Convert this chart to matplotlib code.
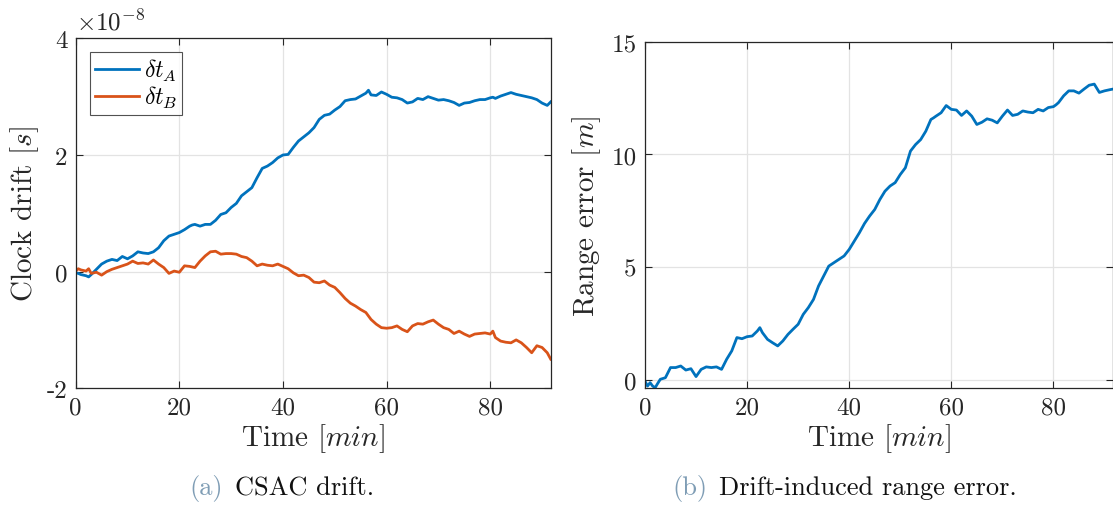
import matplotlib
matplotlib.use('Agg')
import matplotlib.pyplot as plt

plt.rcParams['font.family'] = 'serif'
plt.rcParams['font.serif'] = ['cmr10', 'DejaVu Serif']
plt.rcParams['mathtext.fontset'] = 'cm'
plt.rcParams['axes.unicode_minus'] = False

# time [min]
t = [0, 0.5, 1, 1.5, 2, 2.5, 3, 4, 5, 6, 7, 8, 9, 10, 11, 12, 13, 14, 15, 16, 17, 18, 19, 20,
     21, 22, 22.5, 23, 24, 25, 26, 27, 28, 29, 30, 31, 32, 33, 34, 35, 36, 37, 38, 39, 40,
     41, 42, 43, 44, 45, 46, 47, 48, 49, 50, 51, 52, 53, 54, 55, 56, 56.5, 57, 58, 59, 60,
     61, 62, 63, 64, 65, 66, 67, 68, 69, 70, 71, 72, 73, 74, 75, 76, 77, 78, 79, 80,
     80.5, 81, 82, 83, 84, 85, 86, 87, 88, 89, 90, 91, 91.67]

# clock drift, units of 1e-8 s
dt_a = [-0.02, -0.03, -0.05, -0.06, -0.07, -0.09, -0.05, 0.04, 0.13, 0.18, 0.21, 0.19, 0.26, 0.22,
        0.27, 0.34, 0.32, 0.31, 0.34, 0.41, 0.53, 0.61, 0.64, 0.67,
        0.72, 0.78, 0.80, 0.81, 0.78, 0.81, 0.81, 0.88, 0.98, 1.01, 1.10, 1.17, 1.30, 1.37, 1.44,
        1.61, 1.77, 1.81, 1.87, 1.95, 2.00,
        2.01, 2.13, 2.24, 2.31, 2.38, 2.47, 2.61, 2.68, 2.70, 2.77, 2.83, 2.93, 2.95, 2.96, 3.01,
        3.06, 3.11, 3.03, 3.02, 3.08, 3.04,
        2.99, 2.98, 2.95, 2.89, 2.91, 2.97, 2.95, 3.00, 2.97, 2.94, 2.95, 2.93, 2.90, 2.85, 2.89,
        2.90, 2.93, 2.95, 2.95, 2.98,
        2.99, 2.97, 3.01, 3.04, 3.07, 3.04, 3.02, 3.00, 2.98, 2.95, 2.89, 2.85, 2.91]

dt_b = [0.01, 0.05, 0.03, 0.02, 0.01, 0.05, -0.03, -0.01, -0.06, 0.00, 0.04, 0.07, 0.10, 0.13,
        0.18, 0.14, 0.15, 0.13, 0.20, 0.13, 0.07, -0.03, 0.01, -0.01,
        0.10, 0.09, 0.08, 0.07, 0.18, 0.27, 0.34, 0.35, 0.30, 0.31, 0.31, 0.30, 0.26, 0.24, 0.18,
        0.10, 0.13, 0.11, 0.10, 0.13, 0.09,
        0.05, -0.02, -0.07, -0.06, -0.10, -0.18, -0.19, -0.16, -0.23, -0.27, -0.36, -0.46, -0.54,
        -0.59, -0.65, -0.70, -0.76, -0.82, -0.90, -0.96, -0.97,
        -0.96, -0.93, -0.99, -1.03, -0.93, -0.89, -0.90, -0.86, -0.83, -0.90, -0.96, -0.99, -1.06,
        -1.02, -1.07, -1.11, -1.07, -1.06, -1.05, -1.07,
        -1.02, -1.13, -1.19, -1.21, -1.22, -1.17, -1.22, -1.30, -1.39, -1.27, -1.30, -1.39, -1.50]

# range error [m]
range_err = [-0.05, -0.27, -0.12, -0.27, -0.34, -0.15, 0.03, 0.10, 0.55, 0.55, 0.62, 0.44, 0.50,
             0.15, 0.47, 0.58, 0.55, 0.58, 0.47, 0.92, 1.29, 1.88, 1.83, 1.92,
             1.95, 2.17, 2.32, 2.10, 1.80, 1.65, 1.51, 1.73, 2.02, 2.25, 2.47, 2.91, 3.21, 3.57,
             4.17, 4.61, 5.05, 5.20, 5.35, 5.50, 5.79,
             6.16, 6.53, 6.94, 7.27, 7.56, 8.00, 8.37, 8.60, 8.75, 9.11, 9.41, 10.15, 10.44, 10.66,
             11.03, 11.55, 11.62, 11.70, 11.85, 12.17, 12.00,
             11.97, 11.73, 11.93, 11.70, 11.33, 11.43, 11.58, 11.52, 11.40, 11.70, 11.97, 11.73,
             11.78, 11.93, 11.88, 11.85, 12.00, 11.93, 12.08, 12.12,
             12.20, 12.30, 12.60, 12.82, 12.82, 12.72, 12.90, 13.07, 13.12, 12.75, 12.82, 12.87, 12.90]

blue = '#0072BD'
orange = '#D95319'
cap_col = '#7f9db5'
tick_fs = 18
lab_fs = 21

fig = plt.figure(figsize=(11.13, 5.06), dpi=100)
ax1 = fig.add_axes([0.068, 0.2306, 0.4268, 0.6917])
ax2 = fig.add_axes([0.5795, 0.2306, 0.4205, 0.685])


def style(ax):
    ax.grid(True, color='#e3e3e3', linewidth=0.9)
    ax.set_axisbelow(True)
    ax.tick_params(direction='in', top=True, right=True, labelsize=tick_fs,
                   length=5, width=0.8, colors='#262626', pad=6)
    for s in ax.spines.values():
        s.set_color('#262626')
        s.set_linewidth(0.9)
    ax.set_xlim(0, 91.67)
    ax.set_xticks([0, 20, 40, 60, 80])
    ax.set_xlabel(r'Time $[min]$', fontsize=lab_fs, color='#262626', labelpad=2)


ax1.plot(t, dt_a, color=blue, linewidth=2, label=r'$\delta t_A$')
ax1.plot(t, dt_b, color=orange, linewidth=2, label=r'$\delta t_B$')
style(ax1)
ax1.set_ylim(-2, 4)
ax1.set_yticks([-2, 0, 2, 4])
ax1.set_yticklabels(['-2', '0', '2', '4'])
ax1.set_ylabel(r'Clock drift $[s]$', fontsize=lab_fs, color='#262626', labelpad=4)
ax1.text(0.0, 1.01, r'$\times 10^{-8}$', transform=ax1.transAxes, fontsize=18,
         color='#262626', va='bottom', ha='left')
leg = ax1.legend(loc='upper left', fontsize=17, frameon=True, fancybox=False,
                 edgecolor='#262626', borderpad=0.2, handlelength=1.9,
                 handletextpad=0.2, labelspacing=0.05, borderaxespad=0.6)
leg.get_frame().set_linewidth(0.8)

ax2.plot(t, range_err, color=blue, linewidth=2)
style(ax2)
ax2.set_ylim(-0.37, 15)
ax2.set_yticks([0, 5, 10, 15])
ax2.set_ylabel(r'Range error $[m]$', fontsize=lab_fs, color='#262626', labelpad=6)

# captions
fig.text(0.200, 0.035, '(a)', color=cap_col, fontsize=19, ha='right', va='center')
fig.text(0.211, 0.035, 'CSAC drift.', color='#111111', fontsize=19, ha='left', va='center')
fig.text(0.636, 0.035, '(b)', color=cap_col, fontsize=19, ha='right', va='center')
fig.text(0.646, 0.035, 'Drift-induced range error.', color='#111111', fontsize=19,
         ha='left', va='center')

fig.savefig('out.png', dpi=100)
